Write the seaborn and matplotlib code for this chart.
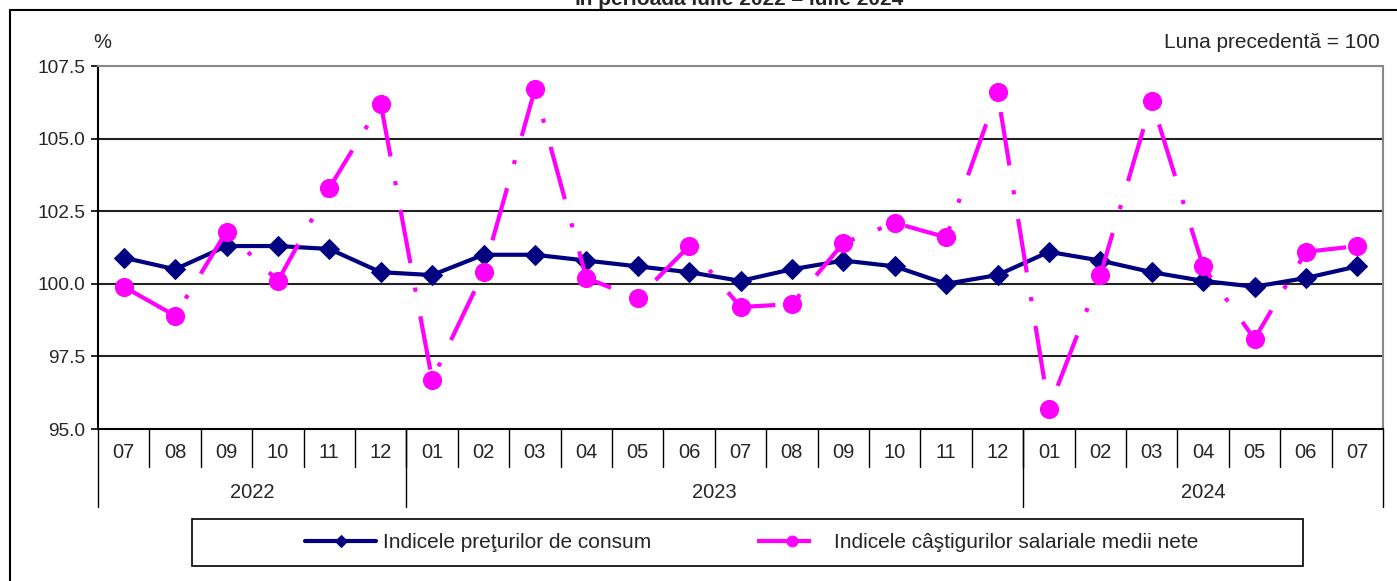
import pandas as pd
import matplotlib.pyplot as plt
import matplotlib.transforms as mtransforms
from matplotlib.patches import Rectangle
import seaborn as sns

# Date
luni = ["07", "08", "09", "10", "11", "12",
        "01", "02", "03", "04", "05", "06", "07", "08", "09", "10", "11", "12",
        "01", "02", "03", "04", "05", "06", "07"]
ani = ["2022", "2023", "2024"]
luni_pe_an = [6, 12, 7]
ipc = [100.9, 100.5, 101.3, 101.3, 101.2, 100.4,
       100.3, 101.0, 101.0, 100.8, 100.6, 100.4, 100.1, 100.5, 100.8, 100.6, 100.0, 100.3,
       101.1, 100.8, 100.4, 100.1, 99.9, 100.2, 100.6]
castig = [99.9, 98.9, 101.8, 100.1, 103.3, 106.2,
          96.7, 100.4, 106.7, 100.2, 99.5, 101.3, 99.2, 99.3, 101.4, 102.1, 101.6, 106.6,
          95.7, 100.3, 106.3, 100.6, 98.1, 101.1, 101.3]
y_ticks = [95.0, 97.5, 100.0, 102.5, 105.0, 107.5]

df = pd.DataFrame({"poz": range(len(luni)), "ipc": ipc, "castig": castig})

sns.set_style("white")
plt.rcParams["font.family"] = ["Liberation Sans", "DejaVu Sans"]
plt.rcParams["font.size"] = 14

fig = plt.figure(figsize=(13.97, 5.81), dpi=100)
ax = fig.add_axes([98 / 1397, 1 - 429 / 581, (1383 - 98) / 1397, (429 - 66) / 581])

# chenarul exterior
fig.patches.append(Rectangle((10 / 1397, -0.1), 1.2, 1 - 10 / 581 + 0.1, transform=fig.transFigure,
                             fill=False, edgecolor="black", linewidth=1.5))

sns.lineplot(data=df, x="poz", y="ipc", ax=ax, color="#000080", linewidth=3,
             marker="D", markersize=10, markeredgecolor="#000080",
             label="Indicele preţurilor de consum", zorder=3)
sns.lineplot(data=df, x="poz", y="castig", ax=ax, color="#FF00FF", linewidth=3,
             marker="o", markersize=13, markeredgecolor="#FF00FF",
             dashes=False, label="Indicele câştigurilor salariale medii nete", zorder=4)
ax.lines[1].set_dashes([13, 6, 1, 6])

ax.set_xlim(-0.5, len(luni) - 0.5)
ax.set_ylim(95, 107.5)
ax.set_yticks(y_ticks)
ax.set_yticklabels([f"{v:.1f}" for v in y_ticks])
ax.set_xticks([])
ax.set_xlabel("")
ax.set_ylabel("")
ax.tick_params(axis="y", left=True, length=5, width=1.2, color="black", pad=4, labelsize=13.8)
for v in y_ticks[1:]:
    ax.axhline(v, color="#222222" if v < 107.5 else "#888888", linewidth=1.5, zorder=1)

for s in ["left", "bottom"]:
    ax.spines[s].set_color("black")
    ax.spines[s].set_linewidth(1.5)
for s in ["top", "right"]:
    ax.spines[s].set_color("#888888")
    ax.spines[s].set_linewidth(1.5)

# axa categoriilor: luni si ani
trans = mtransforms.blended_transform_factory(ax.transData, ax.transAxes)
for i, m in enumerate(luni):
    ax.text(i, -0.066, m, transform=trans, ha="center", va="center", fontsize=14.5)
for i in range(1, len(luni)):
    ax.plot([i - 0.5, i - 0.5], [0, -0.105], transform=trans, color="black",
            linewidth=1, clip_on=False)
start = 0
granite = [-0.5]
for an, n in zip(ani, luni_pe_an):
    ax.text(start + (n - 1) / 2, -0.174, an, transform=trans, ha="center", va="center", fontsize=14.5)
    start += n
    granite.append(start - 0.5)
for g in granite:
    ax.plot([g, g], [0, -0.215], transform=trans, color="black", linewidth=1, clip_on=False)

# texte
fig.text(740 / 1397, 1 - 5 / 581, "în perioada iulie 2022 – iulie 2024", ha="center",
         va="baseline", fontsize=15, fontweight="bold")
fig.text(102 / 1397, 1 - 42 / 581, "%", ha="center", va="center", fontsize=14.5)
fig.text(1380 / 1397, 1 - 42 / 581, "Luna precedentă = 100", ha="right", va="center", fontsize=15)

# legenda
ax.get_legend().remove()
h, l = ax.get_legend_handles_labels()
fig.legend(h, l, loc="center", bbox_to_anchor=(752 / 1397, 1 - 543 / 581), ncol=2,
           frameon=False, handlelength=3.4, handletextpad=0.3, columnspacing=5.1,
           numpoints=1, markerscale=0.6, fontsize=15)
fig.patches.append(Rectangle((192 / 1397, 1 - 566 / 581), (1303 - 192) / 1397, 47 / 581,
                             transform=fig.transFigure, fill=False, edgecolor="black", linewidth=1.2))

fig.savefig("out.png", dpi=100)
